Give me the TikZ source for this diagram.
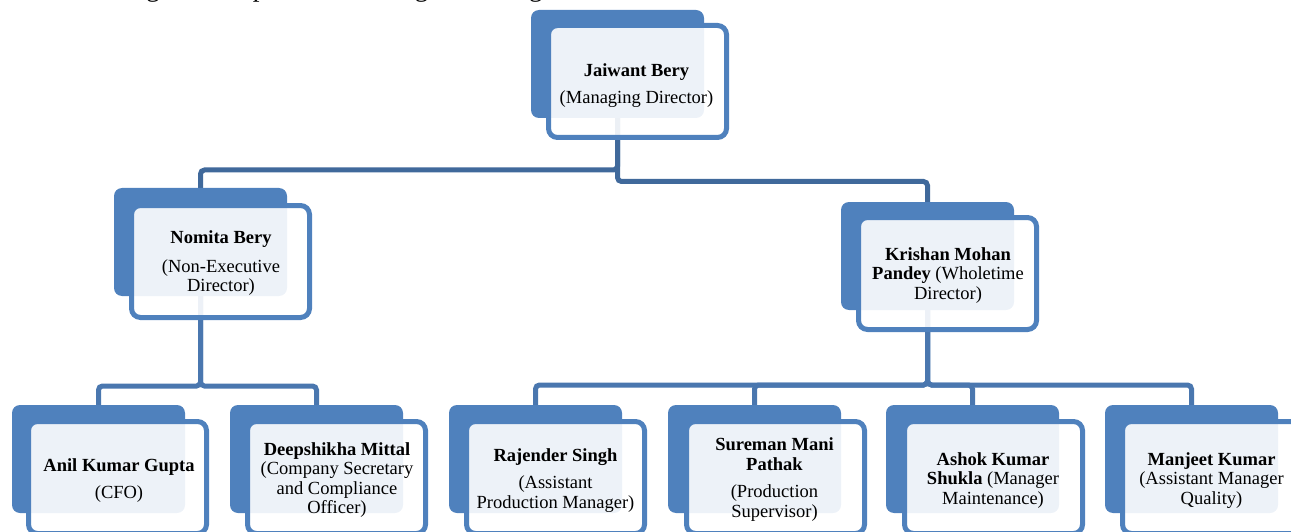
\documentclass[tikz,border=0pt]{standalone}
\usepackage{fontspec}
\setmainfont{Liberation Serif}
\definecolor{accent}{RGB}{79,129,189}
\definecolor{connA}{RGB}{64,105,155}
\definecolor{connB}{RGB}{74,119,175}
\pgfdeclarelayer{bg}
\pgfsetlayers{bg,main}
\tikzset{
  backbox/.style={draw=none, fill=accent, rounded corners=8pt, minimum width=173pt, minimum height=108pt, inner sep=0pt, outer sep=0pt, anchor=north west},
  frontbox/.style={draw=accent, line width=5pt, fill=white, fill opacity=0.9, rounded corners=9pt, minimum width=178pt, minimum height=112pt, inner sep=0pt, outer sep=0pt, anchor=north west},
  txt/.style={align=center, inner sep=0pt, font=\fontsize{18.5}{19.5}\selectfont},
  conn/.style={line width=5pt, rounded corners=4pt},
}
\begin{document}
\begin{tikzpicture}[x=1pt,y=-1pt]
\useasboundingbox (0,0) rectangle (1291,532);
\node[anchor=base west, inner sep=0pt, font=\fontsize{27}{32}\selectfont] (intro) at (6,-3.5) {The following chart depicts our Management Organisation Structure:};
% back boxes
\node[backbox] (jbB) at (531,10) {};
\node[backbox] (nbB) at (114,188) {};
\node[backbox] (kpB) at (841,202) {};
\node[backbox] (akB) at (12,405) {};
\node[backbox] (dmB) at (230,405) {};
\node[backbox] (rsB) at (449,405) {};
\node[backbox] (smB) at (668,405) {};
\node[backbox] (asB) at (886,405) {};
\node[backbox] (mkB) at (1105,405) {};
% front boxes
\node[frontbox] (jbF) at (548.5,25.5) {};
\node[frontbox] (nbF) at (131.5,205.5) {};
\node[frontbox] (kpF) at (858.5,217.5) {};
\node[frontbox] (akF) at (28.5,421.5) {};
\node[frontbox] (dmF) at (247.5,421.5) {};
\node[frontbox] (rsF) at (466.5,421.5) {};
\node[frontbox] (smF) at (686.5,421.5) {};
\node[frontbox] (asF) at (904.5,421.5) {};
\node[frontbox] (mkF) at (1122.5,421.5) {};
% connectors
\coordinate (midL) at (0,170);
\coordinate (midR) at (0,181.5);
\coordinate (midN) at (0,386);
\coordinate (midK) at (0,385);
\begin{pgfonlayer}{bg}
\draw[conn, connA] (jbB.center) -- (jbB.center |- midL) -| (nbB.north);
\draw[conn, connA] (jbB.center) -- (jbB.center |- midR) -| (kpB.north);
\draw[conn, connB] (nbB.center) -- (nbB.center |- midN) -| (akB.north);
\draw[conn, connB] (nbB.center) -- (nbB.center |- midN) -| (dmB.north);
\draw[conn, connB] (kpB.center) -- (kpB.center |- midK) -| (rsB.north);
\draw[conn, connB] (kpB.center) -- (kpB.center |- midK) -| (smB.north);
\draw[conn, connB] (kpB.center) -- (kpB.center |- midK) -| (asB.north);
\draw[conn, connB] (kpB.center) -- (kpB.center |- midK) -| (mkB.north);
\end{pgfonlayer}
% texts
\node[txt] (jbT) at (636.5,85.5) {\textbf{Jaiwant Bery}\\[7pt](Managing Director)};
\node[txt] (nbT) at (221,263.5) {\textbf{Nomita Bery}\\[9pt](Non-Executive\\Director)};
\node[txt] (kpT) at (948,275.5) {\textbf{Krishan Mohan}\\\textbf{Pandey} (Wholetime\\Director)};
\node[txt] (akT) at (119,480.5) {\textbf{Anil Kumar Gupta}\\[7pt](CFO)};
\node[txt] (dmT) at (337,480) {\textbf{Deepshikha Mittal}\\(Company Secretary\\and Compliance\\Officer)};
\node[txt] (rsT) at (555.5,480.5) {\textbf{Rajender Singh}\\[8pt](Assistant\\Production Manager)};
\node[txt] (smT) at (774.5,479.5) {\textbf{Sureman Mani}\\\textbf{Pathak}\\[8pt](Production\\Supervisor)};
\node[txt] (asT) at (993,480.5) {\textbf{Ashok Kumar}\\\textbf{Shukla} (Manager\\Maintenance)};
\node[txt] (mkT) at (1211.5,480.5) {\textbf{Manjeet Kumar}\\(Assistant Manager\\Quality)};
\end{tikzpicture}
\end{document}
